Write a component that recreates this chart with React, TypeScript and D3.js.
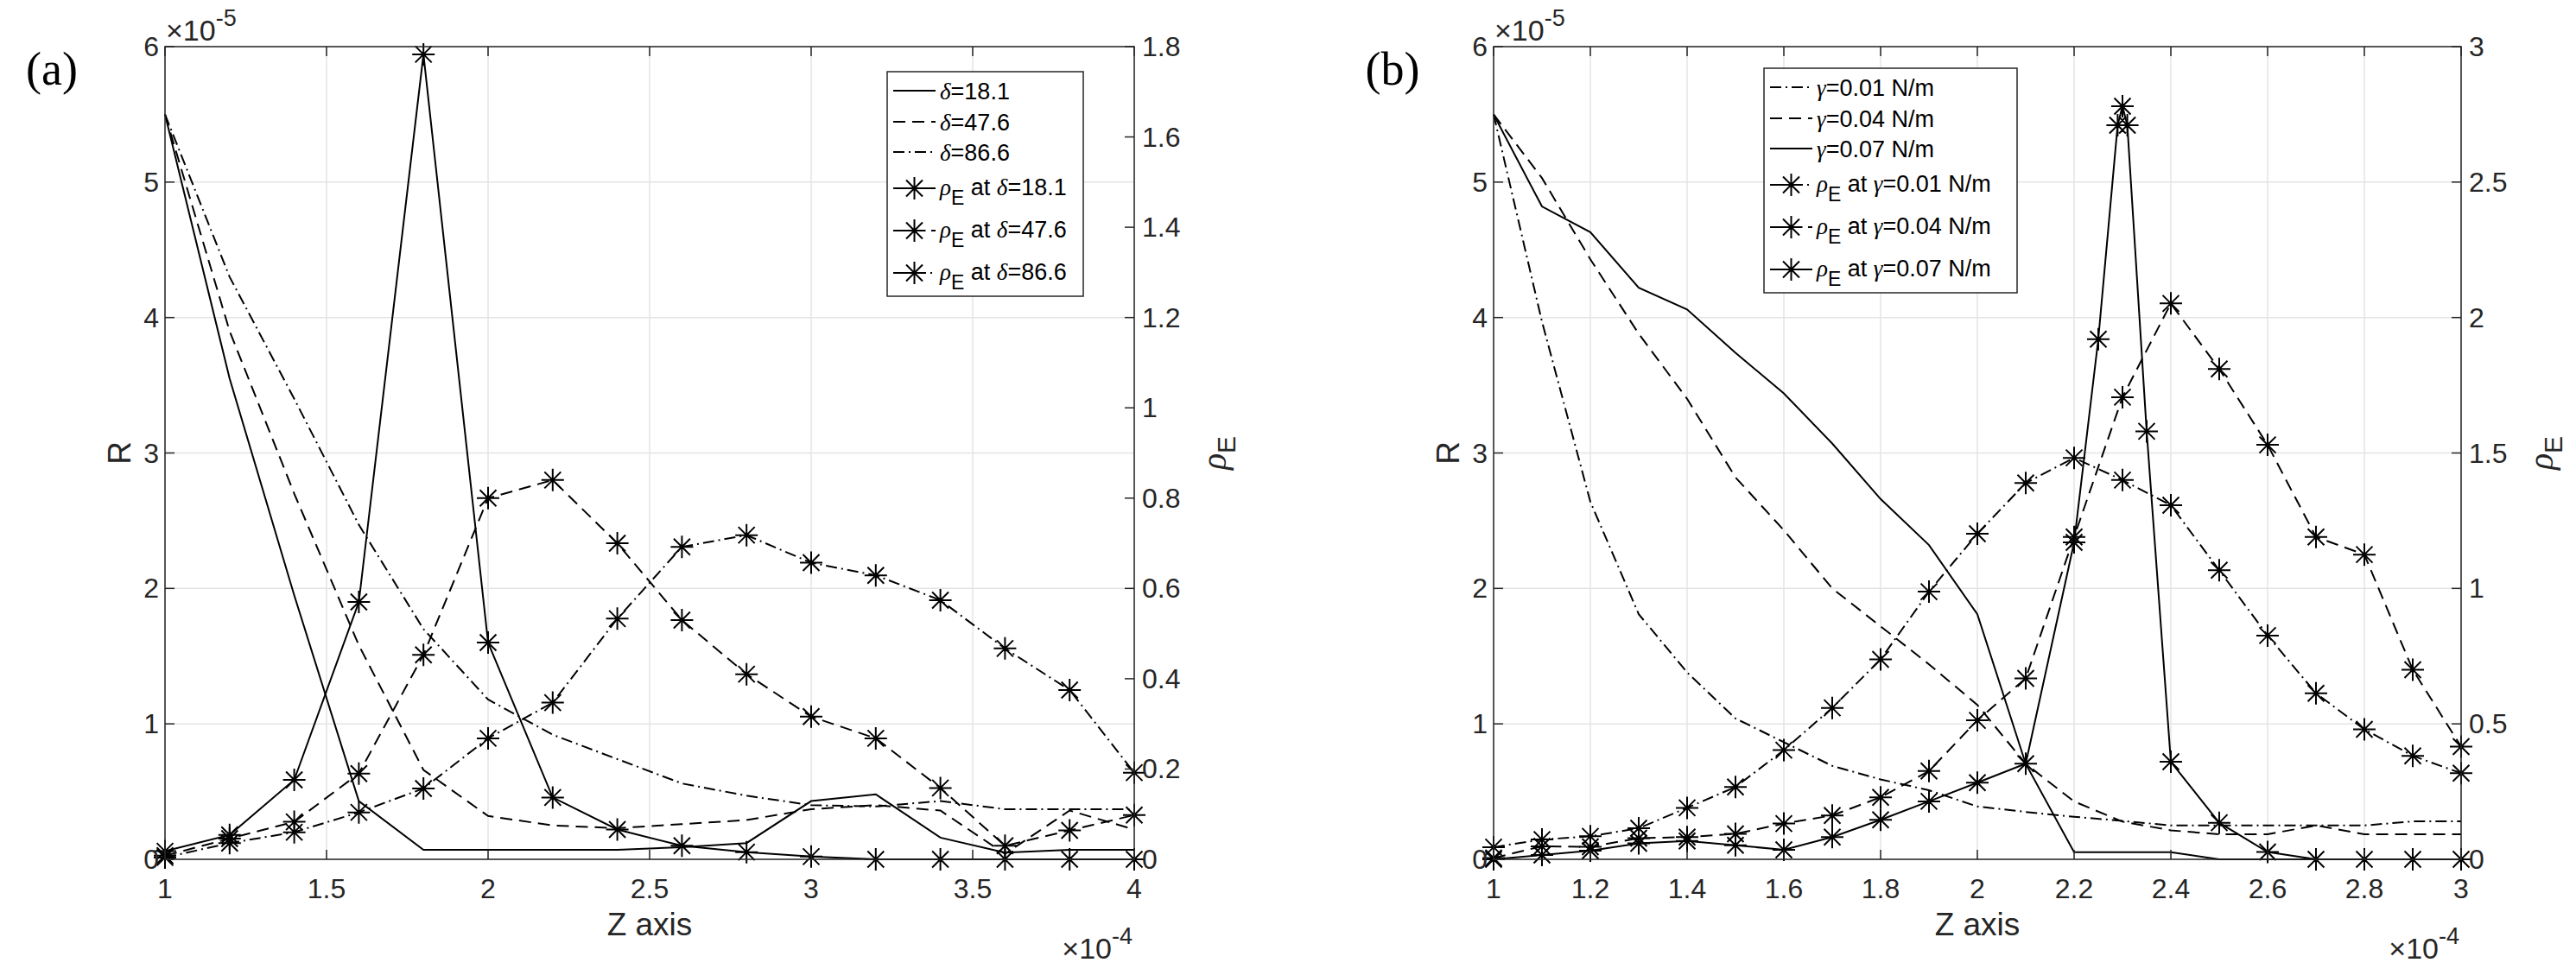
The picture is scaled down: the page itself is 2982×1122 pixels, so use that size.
import React from "react";
import * as d3 from "d3";

// panel (a): Z axis (x1e-4), R (x1e-5), rho_E
const zA = [1, 1.2, 1.4, 1.6, 1.8, 2, 2.2, 2.4, 2.6, 2.8, 3, 3.2, 3.4, 3.6, 3.8, 4];
const rA181 = [5.5, 3.55, 1.95, 0.43, 0.07, 0.07, 0.07, 0.07, 0.09, 0.12, 0.43, 0.48, 0.16, 0.05, 0.07, 0.07];
const rA476 = [5.5, 3.9, 2.7, 1.58, 0.66, 0.32, 0.25, 0.23, 0.26, 0.29, 0.37, 0.4, 0.36, 0.04, 0.36, 0.22];
const rA866 = [5.5, 4.3, 3.4, 2.47, 1.7, 1.18, 0.92, 0.74, 0.56, 0.47, 0.4, 0.39, 0.43, 0.37, 0.37, 0.37];
const pA181 = [0.018, 0.054, 0.176, 0.57, 1.783, 0.48, 0.137, 0.066, 0.03, 0.016, 0.006, 0, 0, 0, 0, 0];
const pA476 = [0.008, 0.046, 0.083, 0.19, 0.453, 0.8, 0.84, 0.7, 0.53, 0.41, 0.316, 0.268, 0.158, 0.03, 0.064, 0.098];
const pA866 = [0.004, 0.036, 0.06, 0.104, 0.157, 0.268, 0.347, 0.533, 0.692, 0.718, 0.657, 0.629, 0.574, 0.467, 0.375, 0.192];
const deltaLabels = ["18.1", "47.6", "86.6"];

// panel (b)
const zB = [1, 1.1, 1.2, 1.3, 1.4, 1.5, 1.6, 1.7, 1.8, 1.9, 2, 2.1, 2.2, 2.3, 2.4, 2.5, 2.6, 2.7, 2.8, 2.9, 3];
const rB001 = [5.5, 3.97, 2.64, 1.81, 1.38, 1.04, 0.865, 0.69, 0.59, 0.51, 0.39, 0.35, 0.314, 0.284, 0.25, 0.25, 0.25, 0.25, 0.25, 0.28, 0.28];
const rB004 = [5.5, 5.03, 4.43, 3.88, 3.4, 2.82, 2.43, 2.0, 1.72, 1.44, 1.14, 0.705, 0.427, 0.278, 0.214, 0.185, 0.185, 0.25, 0.185, 0.185, 0.185];
const rB007 = [5.5, 4.82, 4.63, 4.22, 4.06, 3.74, 3.44, 3.07, 2.66, 2.32, 1.81, 0.705, 0.053, 0.053, 0.053, 0, 0, 0, 0, 0, 0];
const pB001 = [0.045, 0.073, 0.085, 0.115, 0.19, 0.267, 0.403, 0.559, 0.738, 0.988, 1.202, 1.389, 1.482, 1.4, 1.307, 1.067, 0.826, 0.613, 0.48, 0.382, 0.318];
const pB004 = [0.005, 0.048, 0.046, 0.078, 0.082, 0.094, 0.132, 0.162, 0.229, 0.326, 0.513, 0.668, 1.19, 1.706, 2.052, 1.81, 1.53, 1.19, 1.125, 0.7, 0.416];
const zB007 = [1, 1.1, 1.2, 1.3, 1.4, 1.5, 1.6, 1.7, 1.8, 1.9, 2, 2.1, 2.2, 2.25, 2.29, 2.3, 2.31, 2.35, 2.4, 2.5, 2.6, 2.7, 2.8, 2.9, 3];
const pB007 = [0, 0.016, 0.032, 0.059, 0.068, 0.052, 0.035, 0.082, 0.146, 0.214, 0.283, 0.353, 1.17, 1.92, 2.71, 2.78, 2.71, 1.58, 0.36, 0.135, 0.027, 0, 0, 0, 0];
const gammaLabels = ["0.01 N/m", "0.04 N/m", "0.07 N/m"];

const rTicks = [0, 1, 2, 3, 4, 5, 6];
const xTicksA = [1, 1.5, 2, 2.5, 3, 3.5, 4];
const xTicksB = [1, 1.2, 1.4, 1.6, 1.8, 2, 2.2, 2.4, 2.6, 2.8, 3];
const pTicksA = [0, 0.2, 0.4, 0.6, 0.8, 1, 1.2, 1.4, 1.6, 1.8];
const pTicksB = [0, 0.5, 1, 1.5, 2, 2.5, 3];

const W = 2982;
const H = 1122;
const TOP = 54;
const BOTTOM = 995;
const SANS = "'Liberation Sans', Arial, Helvetica, sans-serif";
const SERIF = "'Liberation Serif', 'Times New Roman', serif";
const AX = "#262626";
const GRID = "#e4e4e4";
const DASH: Record<string, string | undefined> = { solid: undefined, dashed: "14 8", dashdot: "13 5 2 5" };

type Series = { xs: number[]; ys: number[]; side: "L" | "R"; dash: string; marker: boolean };
type Entry = { label: React.ReactNode; dash: string; marker: boolean };

const greek = (s: string) => (
  <tspan fontFamily={SERIF} fontStyle="italic">{s}</tspan>
);
const rhoAt = (
  <>
    {greek("ρ")}
    <tspan dy={11} fontSize={23}>E</tspan>
    <tspan dy={-11}> at </tspan>
  </>
);

const star = (cx: number, cy: number) => {
  const r = 13, d = 9.5;
  return `M${cx - r},${cy}H${cx + r}M${cx},${cy - r}V${cy + r}M${cx - d},${cy - d}L${cx + d},${cy + d}M${cx - d},${cy + d}L${cx + d},${cy - d}`;
};

const fmt = (v: number) => String(+v.toFixed(2));

type PanelProps = {
  x0: number; x1: number; xDomain: [number, number]; xTicks: number[];
  pDomain: [number, number]; pTicks: number[];
  series: Series[]; entries: Entry[];
  legend: { x: number; y: number; w: number; h: number };
  tag: string; tagX: number;
};

const legendRows = [22, 58, 93, 135, 184, 233];

const Panel = (p: PanelProps) => {
  const x = d3.scaleLinear().domain(p.xDomain).range([p.x0, p.x1]);
  const yL = d3.scaleLinear().domain([0, 6]).range([BOTTOM, TOP]);
  const yR = d3.scaleLinear().domain(p.pDomain).range([BOTTOM, TOP]);
  const tl = 11;

  return (
    <g>
      {/* grid */}
      {p.xTicks.map((t) => (
        <line key={"gx" + t} x1={x(t)} x2={x(t)} y1={TOP} y2={BOTTOM} stroke={GRID} strokeWidth={1.5} />
      ))}
      {rTicks.map((t) => (
        <line key={"gy" + t} x1={p.x0} x2={p.x1} y1={yL(t)} y2={yL(t)} stroke={GRID} strokeWidth={1.5} />
      ))}

      {/* data */}
      {p.series.map((s, i) => {
        const ys = s.side === "L" ? yL : yR;
        const line = d3.line<number>().x((_, j) => x(s.xs[j])).y((d) => ys(d));
        return (
          <g key={"s" + i}>
            <path d={line(s.ys) ?? ""} fill="none" stroke="#000" strokeWidth={2} strokeDasharray={DASH[s.dash]} />
            {s.marker && (
              <path d={s.ys.map((v, j) => star(x(s.xs[j]), ys(v))).join("")} fill="none" stroke="#000" strokeWidth={2} />
            )}
          </g>
        );
      })}

      {/* axes box */}
      <g stroke={AX} strokeWidth={1.5} fill="none">
        <rect x={p.x0} y={TOP} width={p.x1 - p.x0} height={BOTTOM - TOP} />
        {p.xTicks.map((t) => (
          <path key={"tx" + t} d={`M${x(t)},${BOTTOM}v${-tl}M${x(t)},${TOP}v${tl}`} />
        ))}
        {rTicks.map((t) => (
          <path key={"tl" + t} d={`M${p.x0},${yL(t)}h${tl}`} />
        ))}
        {p.pTicks.map((t) => (
          <path key={"tr" + t} d={`M${p.x1},${yR(t)}h${-tl}`} />
        ))}
      </g>

      {/* tick labels */}
      <g fill={AX} fontSize={32}>
        {p.xTicks.map((t) => (
          <text key={"lx" + t} x={x(t)} y={1040} textAnchor="middle">{fmt(t)}</text>
        ))}
        {rTicks.map((t) => (
          <text key={"ll" + t} x={p.x0 - 7} y={yL(t) + 11} textAnchor="end">{fmt(t)}</text>
        ))}
        {p.pTicks.map((t) => (
          <text key={"lr" + t} x={p.x1 + 9} y={yR(t) + 11} textAnchor="start">{fmt(t)}</text>
        ))}
        <text x={p.x0 + 1} y={47} fontSize={34}>
          ×10<tspan dy={-17} fontSize={27}>-5</tspan>
        </text>
        <text x={p.x1 - 2} y={1110} textAnchor="end" fontSize={34}>
          ×10<tspan dy={-17} fontSize={27}>-4</tspan>
        </text>
      </g>

      {/* axis labels */}
      <g fill={AX} fontSize={37}>
        <text x={(p.x0 + p.x1) / 2} y={1083} textAnchor="middle">Z axis</text>
        <text transform={`translate(${p.x0 - 40},${(TOP + BOTTOM) / 2}) rotate(-90)`} textAnchor="middle">R</text>
        <text transform={`translate(${p.x1 + 106},${(TOP + BOTTOM) / 2}) rotate(-90)`} textAnchor="middle">
          <tspan fontFamily={SERIF} fontStyle="italic" fontSize={40}>ρ</tspan>
          <tspan dy={11} fontSize={30}>E</tspan>
        </text>
      </g>

      {/* legend */}
      <g>
        <rect x={p.legend.x} y={p.legend.y} width={p.legend.w} height={p.legend.h} fill="#fff" stroke={AX} strokeWidth={1.5} />
        {p.entries.map((e, i) => {
          const cy = p.legend.y + legendRows[i];
          const lx0 = p.legend.x + 7;
          const lx1 = p.legend.x + 56;
          return (
            <g key={"e" + i}>
              <line x1={lx0} x2={lx1} y1={cy} y2={cy} stroke="#000" strokeWidth={2} strokeDasharray={DASH[e.dash]} />
              {e.marker && <path d={star((lx0 + lx1) / 2, cy)} stroke="#000" strokeWidth={2} fill="none" />}
              <text x={p.legend.x + 61} y={cy + (e.marker ? 8 : 10)} fontSize={27} fill="#000">{e.label}</text>
            </g>
          );
        })}
      </g>

      <text x={p.tagX} y={98} textAnchor="middle" fontFamily={SERIF} fontSize={54} fill="#000">{p.tag}</text>
    </g>
  );
};

const panelA: PanelProps = {
  x0: 191, x1: 1313, xDomain: [1, 4], xTicks: xTicksA,
  pDomain: [0, 1.8], pTicks: pTicksA,
  series: [
    { xs: zA, ys: rA181, side: "L", dash: "solid", marker: false },
    { xs: zA, ys: rA476, side: "L", dash: "dashed", marker: false },
    { xs: zA, ys: rA866, side: "L", dash: "dashdot", marker: false },
    { xs: zA, ys: pA181, side: "R", dash: "solid", marker: true },
    { xs: zA, ys: pA476, side: "R", dash: "dashed", marker: true },
    { xs: zA, ys: pA866, side: "R", dash: "dashdot", marker: true },
  ],
  entries: [
    ...deltaLabels.map((v, i) => ({ label: <>{greek("δ")}={v}</>, dash: ["solid", "dashed", "dashdot"][i], marker: false })),
    ...deltaLabels.map((v, i) => ({ label: <>{rhoAt}{greek("δ")}={v}</>, dash: ["solid", "dashed", "dashdot"][i], marker: true })),
  ],
  legend: { x: 1027, y: 83, w: 227, h: 260 },
  tag: "(a)", tagX: 60,
};

const panelB: PanelProps = {
  x0: 1729, x1: 2849, xDomain: [1, 3], xTicks: xTicksB,
  pDomain: [0, 3], pTicks: pTicksB,
  series: [
    { xs: zB, ys: rB001, side: "L", dash: "dashdot", marker: false },
    { xs: zB, ys: rB004, side: "L", dash: "dashed", marker: false },
    { xs: zB, ys: rB007, side: "L", dash: "solid", marker: false },
    { xs: zB, ys: pB001, side: "R", dash: "dashdot", marker: true },
    { xs: zB, ys: pB004, side: "R", dash: "dashed", marker: true },
    { xs: zB007, ys: pB007, side: "R", dash: "solid", marker: true },
  ],
  entries: [
    ...gammaLabels.map((v, i) => ({ label: <>{greek("γ")}={v}</>, dash: ["dashdot", "dashed", "solid"][i], marker: false })),
    ...gammaLabels.map((v, i) => ({ label: <>{rhoAt}{greek("γ")}={v}</>, dash: ["dashdot", "dashed", "solid"][i], marker: true })),
  ],
  legend: { x: 2042, y: 79, w: 293, h: 260 },
  tag: "(b)", tagX: 1612,
};

export default function App() {
  return (
    <svg width={W} height={H} style={{ position: "absolute", left: 0, top: 0 }} fontFamily={SANS}>
      <rect width={W} height={H} fill="#fff" />
      <Panel {...panelA} />
      <Panel {...panelB} />
    </svg>
  );
}
